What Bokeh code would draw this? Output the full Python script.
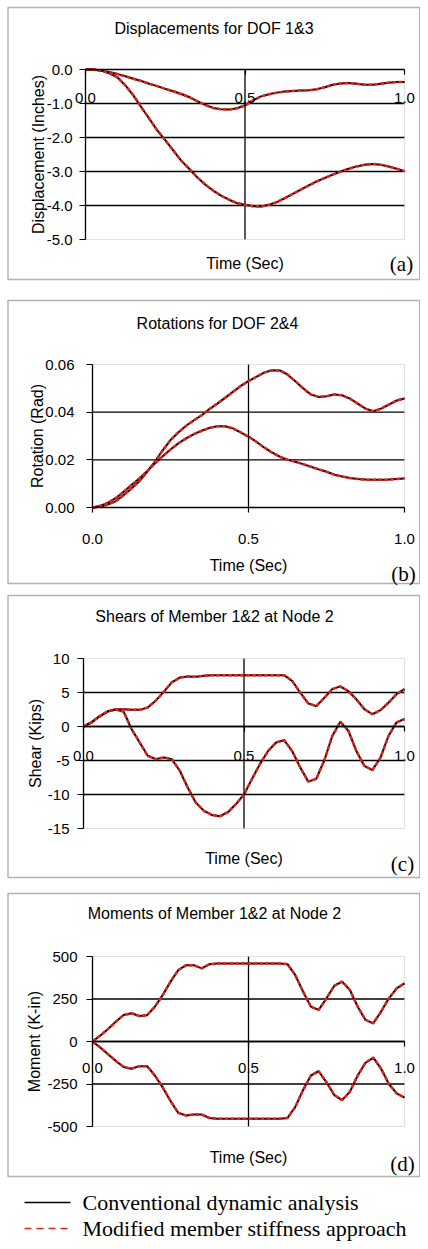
from bokeh.plotting import figure
from bokeh.models import (Range1d, LinearAxis, FixedTicker, NumeralTickFormatter,
                          BoxAnnotation, Label)
from bokeh.layouts import column
from bokeh.embed import file_html
from bokeh.resources import INLINE

# ---------------- data ----------------
time_sec = [0.0, 0.025, 0.05, 0.075, 0.1, 0.125, 0.15, 0.175, 0.2, 0.225, 0.25,
            0.275, 0.3, 0.325, 0.35, 0.375, 0.4, 0.425, 0.45, 0.475, 0.5,
            0.525, 0.55, 0.575, 0.6, 0.625, 0.65, 0.675, 0.7, 0.725, 0.75,
            0.775, 0.8, 0.825, 0.85, 0.875, 0.9, 0.925, 0.95, 0.975, 1.0]

# (a) Displacements (inches)
disp_dof1 = [0.0, 0.0, -0.03, -0.08, -0.13, -0.2, -0.27, -0.34, -0.42, -0.49, -0.57,
             -0.64, -0.72, -0.81, -0.93, -1.04, -1.13, -1.17, -1.18, -1.14, -1.06,
             -0.91, -0.79, -0.73, -0.68, -0.65, -0.63, -0.62, -0.61, -0.58, -0.52,
             -0.45, -0.41, -0.40, -0.42, -0.45, -0.45, -0.42, -0.39, -0.37, -0.37]
disp_dof3 = [0.0, -0.01, -0.03, -0.11, -0.23, -0.47, -0.76, -1.11, -1.45, -1.79, -2.08,
             -2.38, -2.68, -2.92, -3.17, -3.38, -3.56, -3.71, -3.83, -3.93, -3.98,
             -4.02, -4.03, -3.98, -3.90, -3.78, -3.66, -3.53, -3.41, -3.29, -3.19,
             -3.09, -3.0, -2.92, -2.85, -2.80, -2.78, -2.80, -2.85, -2.92, -2.99]

# (b) Rotations (rad)
rot_dof2 = [0.0, 0.0003, 0.0013, 0.0027, 0.0052, 0.008, 0.011, 0.015, 0.0192, 0.024, 0.0283,
            0.0315, 0.0343, 0.0366, 0.0387, 0.0413, 0.0436, 0.046, 0.0485, 0.051, 0.053,
            0.0548, 0.0566, 0.0576, 0.0575, 0.0558, 0.053, 0.050, 0.0474, 0.0464, 0.0467,
            0.0474, 0.0471, 0.0457, 0.0436, 0.0415, 0.0404, 0.0415, 0.0432, 0.0449, 0.0457]
rot_dof4 = [0.0, 0.0007, 0.002, 0.004, 0.0066, 0.0094, 0.0122, 0.0152, 0.0185, 0.0215, 0.0243,
            0.0269, 0.029, 0.0308, 0.0322, 0.0334, 0.0341, 0.0341, 0.0332, 0.0315, 0.0297,
            0.0276, 0.0252, 0.0231, 0.0213, 0.0201, 0.0192, 0.0182, 0.0171, 0.016, 0.015,
            0.0138, 0.013, 0.0124, 0.012, 0.0117, 0.0116, 0.0116, 0.0117, 0.012, 0.0122]

# (c) Shears of member 1&2 at node 2 (kips)
shear_m1 = [0.0, 0.6, 1.5, 2.2, 2.55, 2.55, 2.45, 2.45, 2.8, 3.8, 5.1,
            6.5, 7.2, 7.35, 7.3, 7.45, 7.55, 7.55, 7.55, 7.55, 7.55,
            7.55, 7.55, 7.55, 7.55, 7.55, 6.7, 5.0, 3.4, 3.0, 4.2,
            5.5, 5.9, 5.2, 4.0, 2.55, 1.8, 2.4, 3.5, 4.75, 5.5]
shear_m2 = [0.0, 0.6, 1.5, 2.2, 2.5, 2.2, -0.4, -2.35, -4.3, -4.8, -4.55,
            -4.8, -6.5, -9.0, -11.2, -12.4, -13.0, -13.2, -12.6, -11.4, -10.0,
            -7.7, -5.5, -3.6, -2.35, -2.0, -3.6, -6.0, -8.1, -7.7, -5.0,
            -1.4, 0.7, -0.6, -3.6, -5.8, -6.4, -4.6, -1.4, 0.6, 1.1]

# (d) Moments of member 1&2 at node 2 (kip-in)
moment_m1 = [0, 35, 74, 117, 156, 166, 150, 155, 205, 273, 352,
             420, 449, 449, 430, 455, 459, 459, 459, 459, 459,
             459, 459, 459, 459, 455, 390, 293, 205, 186, 254,
             328, 352, 303, 205, 127, 107, 176, 254, 313, 342]
moment_m2 = [0, -35, -75, -115, -150, -160, -145, -145, -200, -270, -350,
             -420, -435, -430, -430, -450, -455, -455, -455, -455, -455,
             -455, -455, -455, -455, -450, -385, -285, -200, -175, -240,
             -315, -345, -295, -200, -125, -95, -160, -250, -305, -330]

x_ticks = [0.0, 0.5, 1.0]
disp_ticks = [-5.0, -4.0, -3.0, -2.0, -1.0, 0.0]
rot_ticks = [0.0, 0.02, 0.04, 0.06]
shear_ticks = [-15, -10, -5, 0, 5, 10]
moment_ticks = [-500, -250, 0, 250, 500]

titles = ["Displacements for DOF 1&3", "Rotations for DOF 2&4",
          "Shears of Member 1&2 at Node 2", "Moments of Member 1&2 at Node 2"]
y_labels = ["Displacement (Inches)", "Rotation (Rad)", "Shear (Kips)", "Moment (K-in)"]
tags = ["(a)", "(b)", "(c)", "(d)"]
legend_labels = ["Conventional dynamic analysis", "Modified member stiffness approach"]

SANS = "Liberation Sans"
SERIF = "Liberation Serif"
RED = "#e3201b"
W = 420


def panel(title, ylabel, tag, series, yticks, fmt, H, box, plot_px, title_xy, tag_xy,
          xlab_standoff, xtick_standoff, ytick_standoff, ylab_standoff):
    """All *_px / *_xy arguments are canvas pixel positions (layout only)."""
    xl, xr, yt, yb = plot_px
    ymin, ymax = min(yticks), max(yticks)
    xmin, xmax = min(x_ticks), max(x_ticks)
    sx = (xr - xl) / float(xmax - xmin)
    sy = (yb - yt) / float(ymax - ymin)
    x0, x1 = xmin - xl / sx, xmin + (W - xl) / sx
    y1, y0 = ymax + yt / sy, ymin - (H - yb) / sy

    def X(cx):
        return x0 + cx / sx

    def Y(cy):
        return y1 - cy / sy

    p = figure(width=W, height=H, x_range=Range1d(x0, x1), y_range=Range1d(y0, y1),
               output_backend="svg", toolbar_location=None, title_location=None,
               x_axis_type=None, y_axis_type=None, min_border=0)
    p.outline_line_color = None
    p.background_fill_color = "white"
    p.border_fill_color = "white"

    # horizontal grid lines at the inner y ticks, vertical one at the middle x tick
    inner = [v for v in yticks if v != ymin and v != ymax]
    p.segment(x0=[xmin] * len(inner), x1=[xmax] * len(inner), y0=inner, y1=inner,
              line_color="black", line_width=1.3, level="underlay")
    p.segment(x0=[x_ticks[1]], x1=[x_ticks[1]], y0=[ymin], y1=[ymax],
              line_color="black", line_width=1.3, level="underlay")
    # plot-area border
    p.add_layout(BoxAnnotation(left=xmin, right=xmax, bottom=ymin, top=ymax, fill_color=None,
                               line_color="#9a9a9a", line_width=1.2, level="underlay"))

    ya = LinearAxis(ticker=FixedTicker(ticks=yticks), formatter=NumeralTickFormatter(format=fmt),
                    fixed_location=xmin, bounds=(ymin, ymax),
                    axis_label=ylabel, axis_label_standoff=ylab_standoff,
                    axis_label_text_font=SANS, axis_label_text_font_size="16px",
                    axis_label_text_font_style="normal", axis_label_text_color="black",
                    major_label_text_font=SANS, major_label_text_font_size="15px",
                    major_label_text_color="black", major_label_standoff=ytick_standoff,
                    major_tick_out=6, major_tick_in=0, minor_tick_line_color=None,
                    axis_line_color="black", axis_line_width=1.3,
                    major_tick_line_color="black", major_tick_line_width=1.2)
    p.add_layout(ya, "left")

    xa = LinearAxis(ticker=FixedTicker(ticks=x_ticks), formatter=NumeralTickFormatter(format="0.0"),
                    fixed_location=0, bounds=(xmin, xmax),
                    major_label_text_font=SANS, major_label_text_font_size="15px",
                    major_label_text_color="black", major_label_standoff=xtick_standoff,
                    major_tick_out=5, major_tick_in=0, minor_tick_line_color=None,
                    axis_line_color="black", axis_line_width=1.3,
                    major_tick_line_color="black", major_tick_line_width=1.2)
    p.add_layout(xa, "below")

    xlab = LinearAxis(ticker=FixedTicker(ticks=[]), fixed_location=ymin, bounds=(xmin, xmax),
                      axis_label="Time (Sec)", axis_label_standoff=xlab_standoff,
                      axis_label_text_font=SANS, axis_label_text_font_size="16px",
                      axis_label_text_font_style="normal", axis_label_text_color="black",
                      major_tick_out=0, major_tick_in=0, major_label_standoff=0,
                      axis_line_color=None, major_tick_line_color=None, minor_tick_line_color=None)
    p.add_layout(xlab, "below")

    for s in series:
        p.line(time_sec, s, line_color="black", line_width=2.0)
        p.line(time_sec, s, line_color=RED, line_width=2.5, line_dash="4 2")

    bt, bb = box
    p.add_layout(BoxAnnotation(left=X(7.5), right=X(W - 0.75), top=Y(bt), bottom=Y(bb),
                               fill_color=None, line_color="black", line_width=1.5))
    p.add_layout(Label(x=X(title_xy[0]), y=Y(title_xy[1]), text=title,
                       text_align="center", text_baseline="middle", text_font=SANS,
                       text_font_size="16px", text_color="black"))
    p.add_layout(Label(x=X(tag_xy[0]), y=Y(tag_xy[1]), text=tag,
                       text_align="center", text_baseline="middle", text_font=SERIF,
                       text_font_size="21px", text_color="black"))
    return p


pa = panel(titles[0], y_labels[0], tags[0], [disp_dof1, disp_dof3], disp_ticks, "0.0",
           294, (7, 279), (85, 404, 69, 239), (213.5, 28), (401, 263),
           15, 18, 7, -3)
pb = panel(titles[1], y_labels[1], tags[1], [rot_dof2, rot_dof4], rot_ticks, "0.00",
           295, (6, 289), (92, 404, 70, 213), (217, 29), (403, 279),
           49, 21, 12, -4)
pc = panel(titles[2], y_labels[2], tags[2], [shear_m1, shear_m2], shear_ticks, "0",
           298, (6, 288), (83, 404, 69, 239), (214, 27), (402, 274),
           21, 19, 8, 1)
pd_ = panel(titles[3], y_labels[3], tags[3], [moment_m1, moment_m2], moment_ticks, "0",
            295, (6, 289), (92, 404, 69, 239), (214, 26), (402, 276),
            22, 16, 9, 1)

# legend strip (coordinates are canvas pixels)
LH = 59
lf = figure(width=W, height=LH, output_backend="svg", toolbar_location=None,
            title_location=None, x_axis_type=None, y_axis_type=None, min_border=0,
            x_range=Range1d(0, W), y_range=Range1d(LH, 0))
lf.outline_line_color = None
rows = [20, 46]
lf.segment(x0=[24], y0=[rows[0]], x1=[70], y1=[rows[0]], line_color="black", line_width=1.5)
lf.segment(x0=[24], y0=[rows[1]], x1=[70], y1=[rows[1]], line_color=RED, line_width=1.5,
           line_dash="7 5")
for lab, ry in zip(legend_labels, rows):
    lf.add_layout(Label(x=82, y=ry, text=lab, text_baseline="middle", text_align="left",
                        text_font=SERIF, text_font_size="22px", text_color="black"))

layout = column(pa, pb, pc, pd_, lf, spacing=0)
open("out.html", "w").write(file_html(layout, INLINE))
